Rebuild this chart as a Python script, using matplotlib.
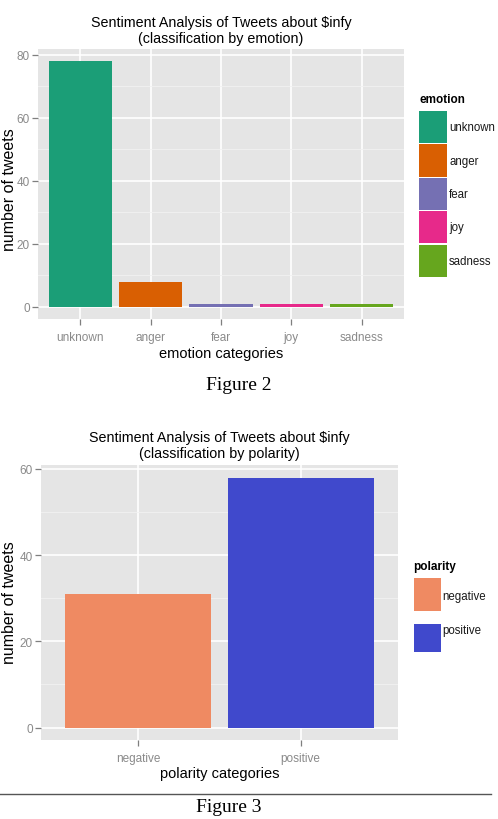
import matplotlib
matplotlib.use("Agg")
import matplotlib.pyplot as plt
from matplotlib.patches import Rectangle

# ---- data ----
emotion_categories = ["unknown", "anger", "fear", "joy", "sadness"]
emotion_counts = [78, 8, 1, 1, 1]
emotion_colors = ["#1B9E77", "#D95F02", "#7570B3", "#E7298A", "#66A61E"]
emotion_yticks = [0, 20, 40, 60, 80]

polarity_categories = ["negative", "positive"]
polarity_counts = [31, 58]
polarity_colors = ["#EF8A62", "#4049CC"]
polarity_yticks = [0, 20, 40, 60]

SANS = "Liberation Sans"
SERIF = "Liberation Serif"
TICKGREY = "#8A8A8A"

W, H = 498, 820
fig = plt.figure(figsize=(W / 100, H / 100), dpi=100)
fig.patch.set_facecolor("white")


def fx(px):
    return px / W


def fy(py):
    return 1 - py / H


def gg_axes(rect_px):
    l, t, r, b = rect_px
    ax = fig.add_axes([fx(l), fy(b), fx(r - l), (b - t) / H])
    ax.set_facecolor("#E5E5E5")
    for s in ax.spines.values():
        s.set_visible(False)
    ax.set_axisbelow(True)
    ax.grid(True, which="major", color="white", linewidth=1.2)
    ax.grid(True, which="minor", axis="y", color="#F2F2F2", linewidth=0.6)
    ax.tick_params(axis="both", which="major", length=4, width=0.9, color="#7F7F7F",
                   labelcolor=TICKGREY, labelsize=8.5)
    ax.tick_params(axis="x", which="major", pad=5)
    ax.tick_params(axis="y", which="major", pad=2)
    ax.tick_params(axis="both", which="minor", length=0)
    return ax


def draw_legend(title, title_xy, labels, cols, keys_px, label_ys, label_x):
    fig.text(fx(title_xy[0]), fy(title_xy[1]), title, family=SANS, fontsize=8.5,
             fontweight="bold", ha="left", va="center")
    for lab, col, (x0, y0, x1, y1), ly in zip(labels, cols, keys_px, label_ys):
        fig.add_artist(Rectangle((fx(x0), fy(y1)), fx(x1 - x0), (y1 - y0) / H,
                                 transform=fig.transFigure, facecolor=col,
                                 edgecolor="none"))
        fig.text(fx(label_x), fy(ly), lab, family=SANS, fontsize=8.3, color="#1A1A1A",
                 ha="left", va="center")


def draw_chart(rect_px, cats, vals, cols, yticks, subtitle, xlabel,
               title_y, ylabel_xy, xlabel_pad):
    ax = gg_axes(rect_px)
    x = list(range(1, len(cats) + 1))
    ax.bar(x, vals, width=0.9, color=cols, zorder=3)
    ax.set_xlim(0.4, len(cats) + 0.6)
    top = max(vals)
    ax.set_ylim(-0.05 * top, top * 1.05)
    ax.set_xticks(x)
    ax.set_xticklabels(cats, family=SANS)
    ax.set_yticks(yticks)
    ax.set_yticklabels([str(v) for v in yticks], family=SANS)
    step = yticks[1] - yticks[0]
    minors = [v + step / 2 for v in yticks if v + step / 2 < top * 1.05]
    ax.set_yticks(minors, minor=True)
    ax.set_xlabel(xlabel, family=SANS, fontsize=10.5, labelpad=xlabel_pad)
    fig.text(fx(ylabel_xy[0]), fy(ylabel_xy[1]), "number of tweets", rotation=90,
             family=SANS, fontsize=11.5, ha="center", va="center")
    cx = fx((rect_px[0] + rect_px[2]) / 2)
    fig.text(cx, fy(title_y), "Sentiment Analysis of Tweets about $infy\n" + subtitle,
             family=SANS, fontsize=10.3, ha="center", va="center", linespacing=1.12)
    return ax


# ---- Figure 2 ----
draw_chart((38, 50, 404, 320), emotion_categories, emotion_counts, emotion_colors,
           emotion_yticks, "(classification by emotion)", "emotion categories",
           title_y=31, ylabel_xy=(9.5, 190), xlabel_pad=2)
key_h = 33.4
emo_keys = [(419, 112 + i * key_h, 447, 112 + (i + 1) * key_h - 1.2)
            for i in range(len(emotion_categories))]
draw_legend("emotion", (419, 100), emotion_categories, emotion_colors, emo_keys,
            [(k[1] + k[3]) / 2 for k in emo_keys], 449)
fig.text(fx(239), fy(386), "Figure 2", family=SERIF, fontsize=14, ha="center", va="center")

# ---- Figure 3 ----
draw_chart((41, 466, 398, 741), polarity_categories, polarity_counts, polarity_colors,
           polarity_yticks, "(classification by polarity)", "polarity categories",
           title_y=446, ylabel_xy=(9.5, 603), xlabel_pad=1)
pol_keys = [(414, 579, 441, 612), (414, 625, 441, 653)]
draw_legend("polarity", (413, 567), polarity_categories, polarity_colors, pol_keys,
            [597, 631], 442)

fig.add_artist(plt.Line2D([0, fx(491)], [fy(795), fy(795)], color="#555555", linewidth=1))
fig.text(fx(229), fy(808), "Figure 3", family=SERIF, fontsize=14, ha="center", va="center")

fig.savefig("out.png", dpi=100)
